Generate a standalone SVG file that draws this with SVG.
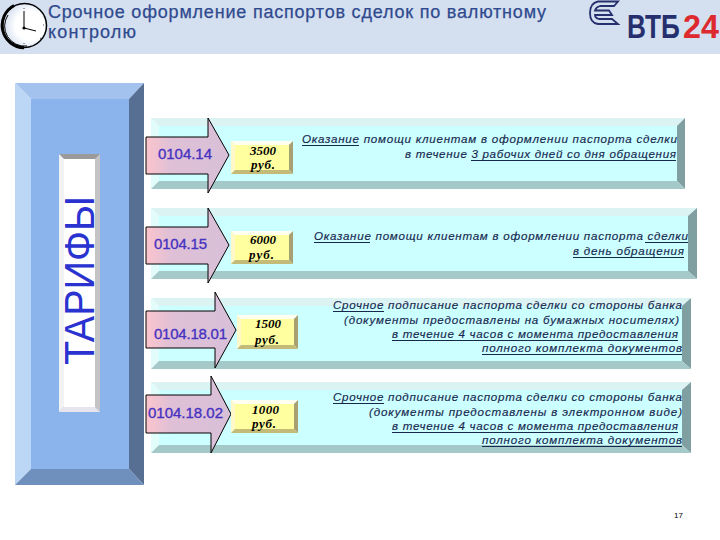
<svg xmlns="http://www.w3.org/2000/svg" width="720" height="540" viewBox="0 0 720 540">
<defs>
<linearGradient id="arrowFill" x1="0" y1="0" x2="1" y2="0">
<stop offset="0" stop-color="#fcc4cc"/><stop offset="0.3" stop-color="#dfc0d6"/><stop offset="1" stop-color="#d8c0d8"/>
</linearGradient>
<radialGradient id="face" cx="0.62" cy="0.5" r="0.6">
<stop offset="0.55" stop-color="#ffffff"/><stop offset="1" stop-color="#d4def0"/>
</radialGradient>
</defs>
<style>
.title{font:500 18px "Liberation Sans","Noto Sans CJK SC",sans-serif;fill:#2f4a8e;stroke:#2f4a8e;stroke-width:.25}
.code{font:15px "Liberation Sans",sans-serif;fill:#4632c0;stroke:#4632c0;stroke-width:.35}
.price{font:italic bold 13px "Liberation Serif",serif;fill:#000}
.desc{font:italic 11.6px "Liberation Sans",sans-serif;fill:#17284f;stroke:#17284f;stroke-width:.15}
.ul{stroke:#17284f;stroke-width:1;fill:none}
.arrow{fill:url(#arrowFill);stroke:#000;stroke-width:1}
.pface{fill:#ccffff}.pt{fill:#dbf3f3}.pl{fill:#e2fbfb}.pb{fill:#a5c8c8}.pr{fill:#7f9fa0}
.yface{fill:#ffff9f}.yt{fill:#fffff0}.yl{fill:#fff8c8}.yb{fill:#c4bb78}.yr{fill:#a8a070}
</style>
<rect width="720" height="540" fill="#fff"/>
<rect id="header" width="720" height="54" fill="#d4dfef"/>

<g id="clock">
<circle cx="24.5" cy="25.5" r="22" fill="url(#face)" stroke="#000" stroke-width="1.5"/>
<path d="M14 5.500A22.500 22.500 0 0 0 24 47.800" fill="none" stroke="#000" stroke-width="3"/>
<path d="M8 15A20 20 0 0 0 27 46" fill="none" stroke="#000" stroke-width="1"/>
<path d="M24 28V11M24 28L36 31" stroke="#000" stroke-width="1" fill="none"/>
<circle cx="24" cy="28" r="1.6" fill="#000"/>
<path d="M24 8v1M24 43v1M43 25h1M43 16l1-.5M40 38l1 .5" stroke="#555" stroke-width="1"/>
</g>

<g id="title">
<text class="title" x="48" y="18" textLength="498" lengthAdjust="spacing">Срочное оформление паспортов сделок по валютному</text>
<text class="title" x="48" y="38" textLength="88" lengthAdjust="spacing">контролю</text>
</g>

<g id="logo">
<path d="M618 1.500H598Q590 3 590 13Q590 23 598 24H618L612 19H599Q595 18 595 15H612L609 10.500H595Q596 7 600 6H614Z" fill="none" stroke="#27306f" stroke-width="1.800"/>
<text transform="translate(627 38) scale(.77 1)" font-family="Liberation Sans,sans-serif" font-weight="700" font-size="34" fill="#252f6e">ВТБ</text>
<text transform="translate(683 38) scale(.95 1)" font-family="Liberation Sans,sans-serif" font-weight="700" font-size="34" fill="#dc2a2e">24</text>
</g>

<g id="tariffs">
<rect x="31" y="99" width="98" height="370" fill="#8cb4ec"/>
<polygon points="15,83 144,83 129,99 31,99" fill="#a3c3ee"/>
<polygon points="15,83 31,99 31,469 15,485" fill="#bcd6f6"/>
<polygon points="144,83 144,485 129,469 129,99" fill="#566f92"/>
<polygon points="15,485 31,469 129,469 144,485" fill="#6f8fbc"/>
<rect x="64" y="159" width="31" height="248" fill="#fff"/>
<polygon points="59,154 100,154 95,159 64,159" fill="#9a9a9a"/>
<polygon points="59,154 64,159 64,407 59,412" fill="#f2f2f2"/>
<polygon points="100,154 100,412 95,407 95,159" fill="#c4c4c4"/>
<polygon points="59,412 64,407 95,407 100,412" fill="#e8e4ee"/>
<text transform="translate(94 365) rotate(-90)" font-family="Liberation Sans,sans-serif" font-size="42" fill="#2a32d0" textLength="169" lengthAdjust="spacingAndGlyphs">ТАРИФЫ</text>
</g>

<g id="row1">
<rect class="pface" x="159" y="126" width="518" height="55"/>
<polygon class="pt" points="151,118 685,118 677,126 159,126"/>
<polygon class="pl" points="151,118 159,126 159,181 151,189"/>
<polygon class="pr" points="685,118 685,189 677,181 677,126"/>
<polygon class="pb" points="151,189 159,181 677,181 685,189"/>
<polygon class="arrow" points="146,137 208,137 208,118 229,155 208,193 208,174 146,174"/>
<text class="code" x="158" y="159" textLength="54">0104.14</text>
<rect class="yface" x="235" y="145" width="54" height="25"/>
<polygon class="yt" points="231,141 293,141 289,145 235,145"/>
<polygon class="yl" points="231,141 235,145 235,170 231,174"/>
<polygon class="yr" points="293,141 293,174 289,170 289,145"/>
<polygon class="yb" points="231,174 235,170 289,170 293,174"/>
<text class="price" x="250" y="155" textLength="26">3500</text>
<text class="price" x="251" y="169" textLength="24">руб.</text>
<text class="desc" x="302" y="143" textLength="375">Оказание помощи клиентам в оформлении паспорта сделки</text>
<text class="desc" x="405" y="158" textLength="271">в течение 3 рабочих дней со дня обращения</text>
<path class="ul" d="M302 145.500H359M471 160.500H676"/>
</g>

<g id="row2">
<rect class="pface" x="159" y="216" width="529" height="55"/>
<polygon class="pt" points="151,208 697,208 688,216 159,216"/>
<polygon class="pl" points="151,208 159,216 159,271 151,279"/>
<polygon class="pr" points="697,208 697,279 688,271 688,216"/>
<polygon class="pb" points="151,279 159,271 688,271 697,279"/>
<polygon class="arrow" points="146,227 208,227 208,208 229,245 208,283 208,264 146,264"/>
<text class="code" x="154" y="249" textLength="53">0104.15</text>
<rect class="yface" x="235" y="235" width="54" height="25"/>
<polygon class="yt" points="231,231 293,231 289,235 235,235"/>
<polygon class="yl" points="231,231 235,235 235,260 231,264"/>
<polygon class="yr" points="293,231 293,264 289,260 289,235"/>
<polygon class="yb" points="231,264 235,260 289,260 293,264"/>
<text class="price" x="250" y="244" textLength="26">6000</text>
<text class="price" x="249" y="259" textLength="25">руб.</text>
<text class="desc" x="314" y="240" textLength="374">Оказание помощи клиентам в оформлении паспорта сделки</text>
<text class="desc" x="573" y="255" textLength="111">в день обращения</text>
<path class="ul" d="M314 242.500H370M645 242.500H688M573 257.500H684"/>
</g>

<g id="row3">
<rect class="pface" x="159" y="306" width="523" height="55"/>
<polygon class="pt" points="151,298 691,298 682,306 159,306"/>
<polygon class="pl" points="151,298 159,306 159,361 151,369"/>
<polygon class="pr" points="691,298 691,369 682,361 682,306"/>
<polygon class="pb" points="151,369 159,361 682,361 691,369"/>
<polygon class="arrow" points="146,311 215,311 215,292 236,330 215,368 215,348 146,348"/>
<text class="code" x="154" y="339" textLength="73">0104.18.01</text>
<rect class="yface" x="241" y="319" width="53" height="26"/>
<polygon class="yt" points="237,315 298,315 294,319 241,319"/>
<polygon class="yl" points="237,315 241,319 241,345 237,349"/>
<polygon class="yr" points="298,315 298,349 294,345 294,319"/>
<polygon class="yb" points="237,349 241,345 294,345 298,349"/>
<text class="price" x="255" y="328" textLength="26">1500</text>
<text class="price" x="255" y="344" textLength="24">руб.</text>
<text class="desc" x="333" y="309" textLength="349">Срочное подписание паспорта сделки со стороны банка</text>
<text class="desc" x="344" y="324" textLength="335">(документы предоставлены на бумажных носителях)</text>
<text class="desc" x="392" y="338" textLength="286">в течение 4 часов с момента предоставления</text>
<text class="desc" x="482" y="352" textLength="200">полного комплекта документов</text>
<path class="ul" d="M333 311.500H384M392 340.500H678M482 354.500H682"/>
</g>

<g id="row4">
<rect class="pface" x="159" y="390" width="523" height="55"/>
<polygon class="pt" points="151,382 691,382 682,390 159,390"/>
<polygon class="pl" points="151,382 159,390 159,445 151,453"/>
<polygon class="pr" points="691,382 691,453 682,445 682,390"/>
<polygon class="pb" points="151,453 159,445 682,445 691,453"/>
<polygon class="arrow" points="146,395 211,395 211,376 231,414 211,453 211,433 146,433"/>
<text class="code" x="148" y="418" textLength="75">0104.18.02</text>
<rect class="yface" x="235" y="404" width="59" height="25"/>
<polygon class="yt" points="231,400 298,400 294,404 235,404"/>
<polygon class="yl" points="231,400 235,404 235,429 231,433"/>
<polygon class="yr" points="298,400 298,433 294,429 294,404"/>
<polygon class="yb" points="231,433 235,429 294,429 298,433"/>
<text class="price" x="252" y="414" textLength="27">1000</text>
<text class="price" x="252" y="428" textLength="24">руб.</text>
<text class="desc" x="333" y="401" textLength="349">Срочное подписание паспорта сделки со стороны банка</text>
<text class="desc" x="369" y="416" textLength="313">(документы предоставлены  в электронном виде)</text>
<text class="desc" x="392" y="430" textLength="286">в течение 4 часов с момента предоставления</text>
<text class="desc" x="482" y="444" textLength="200">полного комплекта документов</text>
<path class="ul" d="M333 403.500H384M392 432.500H678M482 446.500H682"/>
</g>

<text id="page" x="674" y="518" font-family="Liberation Sans,sans-serif" font-size="8" fill="#000">17</text>
<g id="connectors"/>
</svg>
